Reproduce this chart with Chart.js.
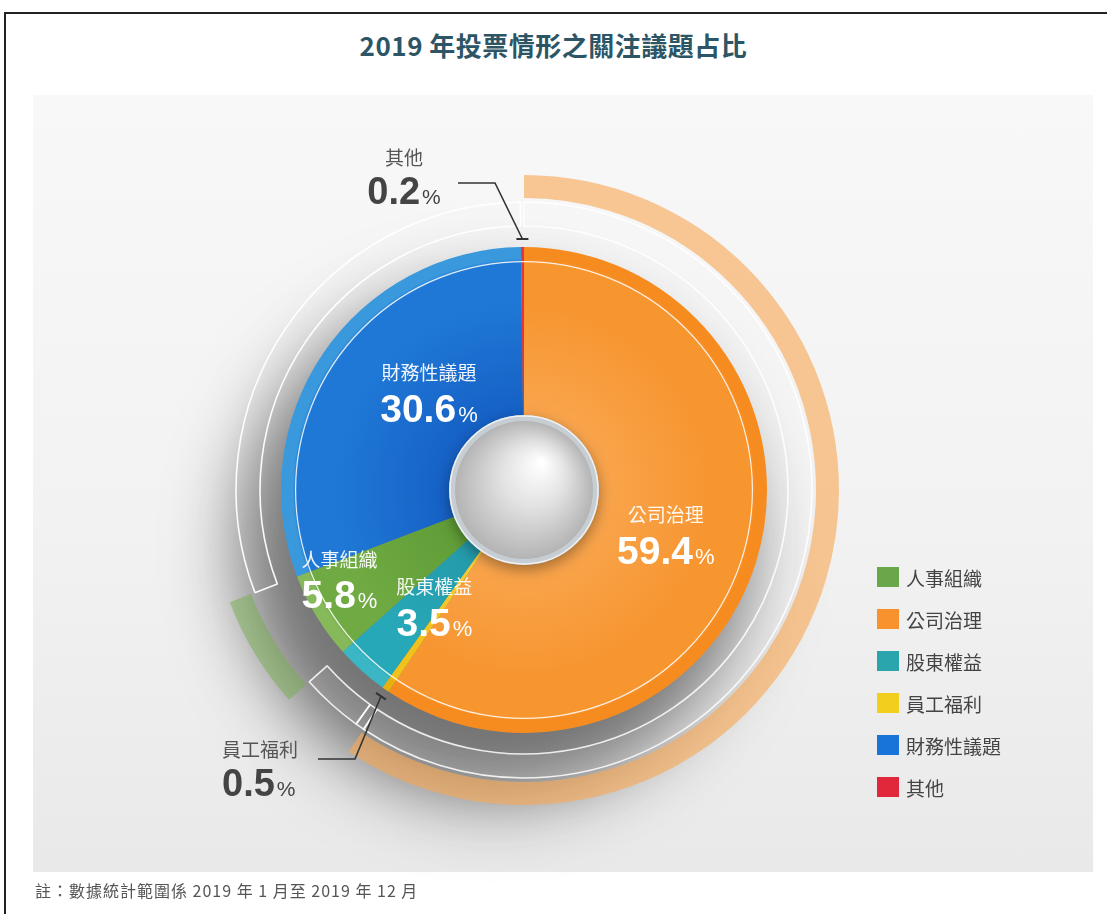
<!DOCTYPE html>
<html lang="zh-Hant">
<head>
<meta charset="UTF-8">
<title>2019 年投票情形之關注議題占比</title>
<script src="https://cdn.jsdelivr.net/npm/chart.js"></script>
<style>
  body { margin: 0; width: 1107px; height: 914px; background: #fff; position: relative; overflow: hidden;
         font-family: "Noto Sans CJK TC", "Noto Sans", sans-serif; }
  #frame { position: absolute; left: 4px; top: 12px; width: 1120px; height: 920px;
           border-left: 2px solid #222; border-top: 2px solid #222; }
  #panel { position: absolute; left: 33px; top: 95px; width: 1060px; height: 777px;
           background: linear-gradient(180deg, #f8f8f9 0%, #f2f2f2 55%, #e9e9e9 100%); }
  #title { position: absolute; left: 0; top: 26px; width: 1107px; text-align: center;
           font-size: 26px; font-weight: 700; color: #2c5566; letter-spacing: 0.5px; }
  #note { position: absolute; left: 35px; top: 878px; font-size: 16px; color: #555; letter-spacing: 1px; }
  #legend { position: absolute; left: 877px; top: 556px; }
  .item { height: 42px; display: flex; align-items: center; font-size: 19px; color: #444; }
  .swatch { width: 22px; height: 20px; margin-right: 7px; }
  canvas { position: absolute; left: 0; top: 0; }
</style>
</head>
<body>
<div id="frame"></div>
<div id="panel"></div>
<div id="title">2019 年投票情形之關注議題占比</div>
<canvas id="voteChart" width="1107" height="914"></canvas>
<div id="legend"></div>
<div id="note">註：數據統計範圍係 2019 年 1 月至 2019 年 12 月</div>

<script>
    // clockwise from 12 o'clock
    const categories = ['公司治理', '員工福利', '股東權益', '人事組織', '財務性議題', '其他'];
    const shares = [59.4, 0.5, 3.5, 5.8, 30.6, 0.2];
    const legendOrder = ['人事組織', '公司治理', '股東權益', '員工福利', '財務性議題', '其他'];

    const palette = {
        '公司治理':   { inner: '#f9a64f', mid: '#f7952f', rim: '#f68c20', legend: '#f7922c' },
        '員工福利':   { inner: '#f4d03a', mid: '#f1c21b', rim: '#e5b010', legend: '#f2cf1c' },
        '股東權益':   { inner: '#2498a8', mid: '#27a8b8', rim: '#3bb6c4', legend: '#2aa4ad' },
        '人事組織':   { inner: '#5f9c36', mid: '#6faa42', rim: '#85b95a', legend: '#6aa64a' },
        '財務性議題': { inner: '#155fc4', mid: '#1f78d6', rim: '#3a98dc', legend: '#1874d8' },
        '其他':       { inner: '#e2353d', mid: '#e2353d', rim: '#e2353d', legend: '#e0283a' }
    };

    // label placement inside the slices (radius as share of pie radius, angle nudge in degrees)
    const insideLabels = {
        '公司治理':   { r: 0.61, da: 0 },
        '財務性議題': { r: 0.565, da: 12 },
        '人事組織':   { r: 0.84, da: 6 },
        '股東權益':   { r: 0.6, da: -4 }
    };
    // callouts outside the pie, offsets from the pie centre
    const outsideLabels = {
        '其他':     { elbow: [-29, -307], start: [-66, -307], text: [-120, -332], align: 'center' },
        '員工福利': { elbow: [-169, 269], start: [-206, 269], text: [-302, 260], align: 'left' }
    };

    const PIE = 4;
    const CUTOUT = 70;

    // legend
    const legendBox = document.getElementById('legend');
    legendOrder.forEach(name => {
        const row = document.createElement('div');
        row.className = 'item';
        row.innerHTML = '<span class="swatch" style="background:' + palette[name].legend + '"></span>' + name;
        legendBox.appendChild(row);
    });

    function pieCentre(chart) {
        const a = chart.chartArea;
        return { cx: (a.left + a.right) / 2, cy: (a.top + a.bottom) / 2, R: Math.min(a.width, a.height) / 2 };
    }

    function sliceFill(context) {
        const c = palette[categories[context.dataIndex]];
        const chart = context.chart;
        if (!chart.chartArea) return c.mid;
        const { cx, cy, R } = pieCentre(chart);
        const g = chart.ctx.createRadialGradient(cx, cy, 0, cx, cy, R);
        g.addColorStop(0.22, c.inner);
        g.addColorStop(0.6, c.mid);
        g.addColorStop(0.72, c.mid);
        g.addColorStop(0.735, c.rim);
        g.addColorStop(0.8, c.rim);
        return g;
    }

    function pick(map, fallback) {
        return categories.map(n => map[n] !== undefined ? map[n] : fallback);
    }

    const shadowPlugin = {
        id: 'shadowPlugin',
        beforeDatasetsDraw(chart) {
            const { cx, cy } = pieCentre(chart);
            const ctx = chart.ctx;
            ctx.save();
            ctx.shadowColor = 'rgba(40,40,40,0.62)';
            ctx.shadowBlur = 70;
            ctx.shadowOffsetX = 10000 - 30;
            ctx.shadowOffsetY = 55;
            ctx.fillStyle = '#000';
            ctx.beginPath();
            ctx.arc(cx - 10000, cy, 255, 0, Math.PI * 2);
            ctx.fill();
            ctx.restore();
        }
    };

    function drawValue(ctx, value, x, y, align, big, small, color) {
        ctx.font = 'bold ' + big + 'px "Liberation Sans", Arial, sans-serif';
        const w1 = ctx.measureText(value).width;
        ctx.font = small + 'px "Liberation Sans", Arial, sans-serif';
        const w2 = ctx.measureText('%').width;
        const left = align === 'center' ? x - (w1 + w2 + 2) / 2 : x;
        ctx.fillStyle = color;
        ctx.textAlign = 'left';
        ctx.textBaseline = 'alphabetic';
        ctx.font = 'bold ' + big + 'px "Liberation Sans", Arial, sans-serif';
        ctx.fillText(value, left, y);
        ctx.font = small + 'px "Liberation Sans", Arial, sans-serif';
        ctx.fillText('%', left + w1 + 2, y);
    }

    const decorPlugin = {
        id: 'decorPlugin',
        afterDatasetsDraw(chart) {
            const ctx = chart.ctx;
            const meta = chart.getDatasetMeta(PIE);
            const arc0 = meta.data[0];
            const cx = arc0.x, cy = arc0.y, outer = arc0.outerRadius;

            // thin white circle inside the pie
            ctx.save();
            ctx.strokeStyle = 'rgba(255,255,255,0.85)';
            ctx.lineWidth = 1.2;
            ctx.beginPath();
            ctx.arc(cx, cy, outer * 0.94, 0, Math.PI * 2);
            ctx.stroke();

            // centre ball
            ctx.shadowColor = 'rgba(0,0,0,0.35)';
            ctx.shadowBlur = 14;
            ctx.shadowOffsetY = 5;
            ctx.fillStyle = '#c6ced4';
            ctx.beginPath();
            ctx.arc(cx, cy, 75, 0, Math.PI * 2);
            ctx.fill();
            ctx.shadowColor = 'transparent';
            const ball = ctx.createRadialGradient(cx + 18, cy - 28, 2, cx, cy, 69);
            ball.addColorStop(0, '#ffffff');
            ball.addColorStop(0.45, '#e2e2e2');
            ball.addColorStop(1, '#b4b4b4');
            ctx.fillStyle = ball;
            ctx.beginPath();
            ctx.arc(cx, cy, 69, 0, Math.PI * 2);
            ctx.fill();
            ctx.strokeStyle = 'rgba(255,255,255,0.7)';
            ctx.lineWidth = 1.5;
            ctx.beginPath();
            ctx.arc(cx, cy, 74, 0, Math.PI * 2);
            ctx.stroke();

            // labels inside slices
            meta.data.forEach((arc, i) => {
                const name = categories[i];
                const spec = insideLabels[name];
                if (!spec) return;
                const mid = (arc.startAngle + arc.endAngle) / 2 + spec.da * Math.PI / 180;
                const x = cx + Math.cos(mid) * outer * spec.r;
                const y = cy + Math.sin(mid) * outer * spec.r;
                ctx.fillStyle = 'rgba(255,255,255,0.93)';
                ctx.font = '19px "Noto Sans CJK TC", sans-serif';
                ctx.textAlign = 'center';
                ctx.textBaseline = 'middle';
                ctx.fillText(name, x, y - 18);
                drawValue(ctx, shares[i].toFixed(1), x, y + 31, 'center', 39, 22, '#ffffff');
            });

            // callouts outside
            meta.data.forEach((arc, i) => {
                const name = categories[i];
                const spec = outsideLabels[name];
                if (!spec) return;
                const mid = (arc.startAngle + arc.endAngle) / 2;
                const ex = cx + Math.cos(mid) * (outer + 8);
                const ey = cy + Math.sin(mid) * (outer + 8);
                ctx.strokeStyle = '#333';
                ctx.lineWidth = 1.6;
                ctx.beginPath();
                ctx.moveTo(cx + spec.start[0], cy + spec.start[1]);
                ctx.lineTo(cx + spec.elbow[0], cy + spec.elbow[1]);
                ctx.lineTo(ex, ey);
                ctx.stroke();
                // small tick across the end
                const tx = -Math.sin(mid) * 6, ty = Math.cos(mid) * 6;
                ctx.lineWidth = 2;
                ctx.beginPath();
                ctx.moveTo(ex - tx, ey - ty);
                ctx.lineTo(ex + tx, ey + ty);
                ctx.stroke();

                const tx0 = cx + spec.text[0], ty0 = cy + spec.text[1];
                ctx.fillStyle = '#555';
                ctx.font = '19px "Noto Sans CJK TC", sans-serif';
                ctx.textAlign = spec.align;
                ctx.textBaseline = 'middle';
                ctx.fillText(name, tx0, ty0);
                drawValue(ctx, shares[i].toFixed(1), tx0, ty0 + 46, spec.align, 38, 21, '#444');
            });
            ctx.restore();
        }
    };

    const clear = 'rgba(0,0,0,0)';
    const ringLine = 'rgba(255,255,255,0.85)';

    new Chart(document.getElementById('voteChart'), {
        type: 'doughnut',
        data: {
            labels: categories,
            datasets: [
                {   // outer highlight band
                    data: shares, weight: 23, borderWidth: 0,
                    backgroundColor: pick({ '公司治理': 'rgba(247,168,86,0.62)', '人事組織': 'rgba(118,172,78,0.5)' }, clear)
                },
                {   data: shares, weight: 4, borderWidth: 0, backgroundColor: clear },
                {   // outlined ring
                    data: shares, weight: 24, borderWidth: 1.6,
                    backgroundColor: pick({ '公司治理': 'rgba(255,255,255,0.08)', '員工福利': 'rgba(255,255,255,0.08)',
                                            '股東權益': 'rgba(255,255,255,0.08)' }, clear),
                    borderColor: pick({ '公司治理': ringLine, '員工福利': ringLine,
                                        '股東權益': ringLine, '財務性議題': 'rgba(255,255,255,0.95)' }, clear)
                },
                {   data: shares, weight: 21, borderWidth: 0, backgroundColor: clear },
                {   // the pie itself
                    data: shares, weight: 173, borderWidth: 0,
                    backgroundColor: sliceFill
                }
            ]
        },
        options: {
            responsive: false,
            animation: false,
            events: [],
            cutout: CUTOUT,
            rotation: 0,
            layout: { padding: { left: 209, right: 268, top: 175, bottom: 109 } },
            plugins: {
                legend: { display: false },
                tooltip: { enabled: false }
            }
        },
        plugins: [shadowPlugin, decorPlugin]
    });
</script>
</body>
</html>
